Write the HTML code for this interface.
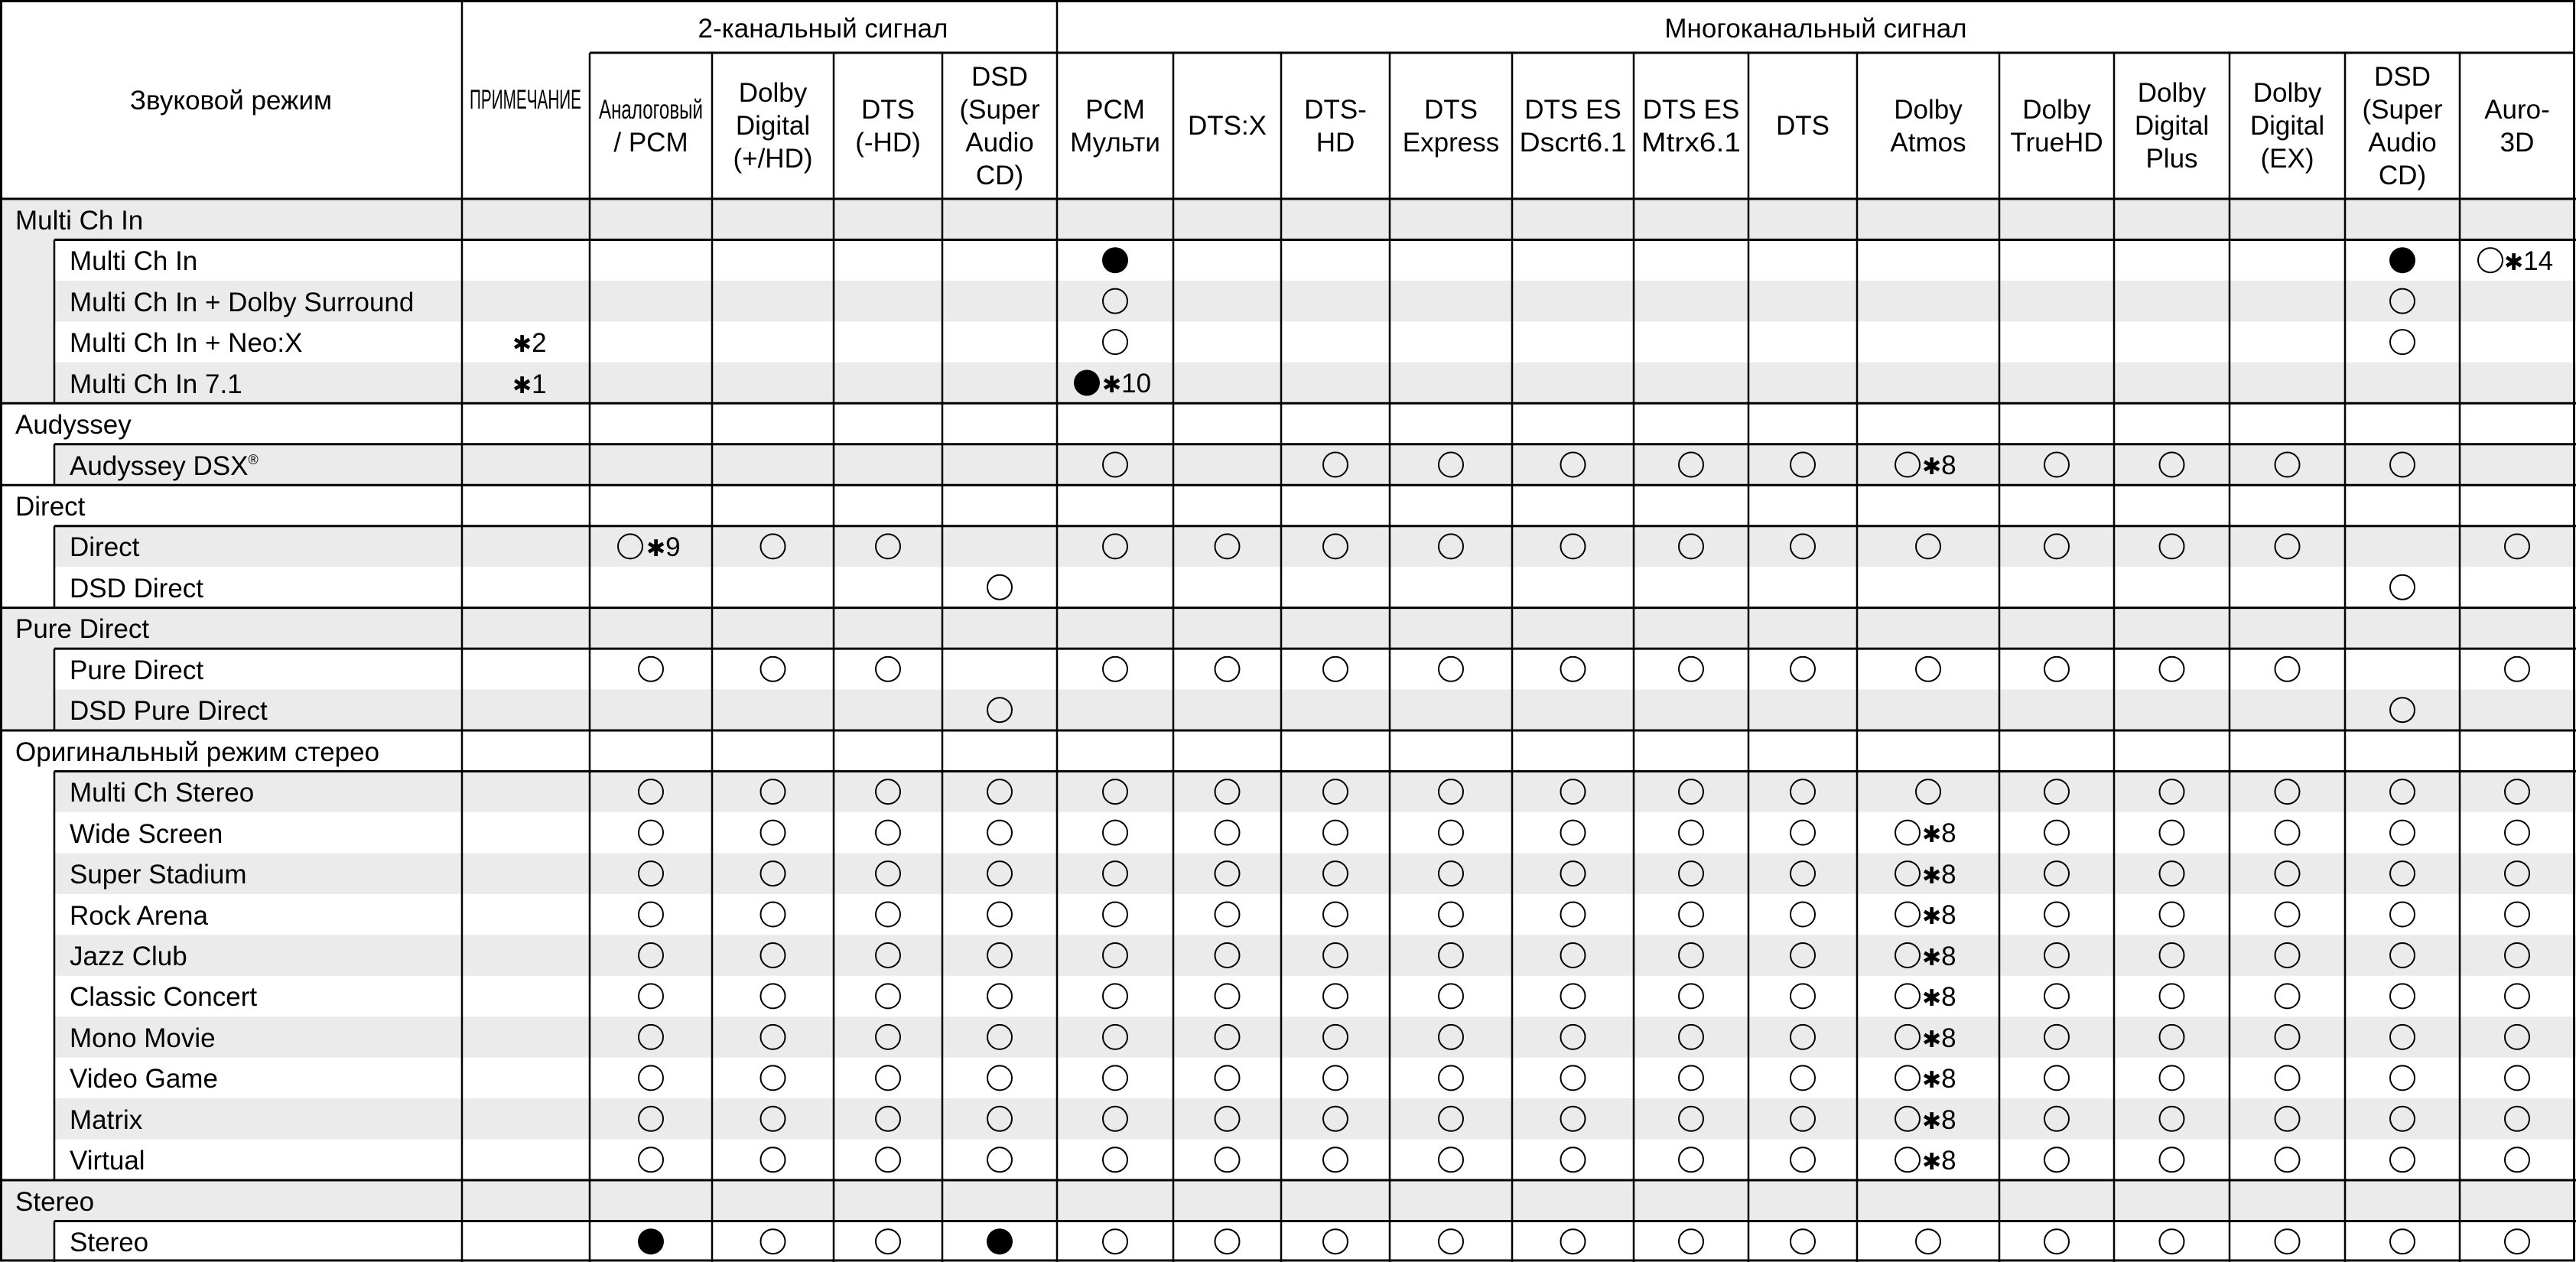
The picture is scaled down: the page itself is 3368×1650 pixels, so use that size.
<!DOCTYPE html>
<html><head><meta charset="utf-8"><style>
html,body{margin:0;padding:0;background:#fff;}
svg{display:block;}
text{font-family:"Liberation Sans","DejaVu Sans",sans-serif;font-size:35px;fill:#000;}
.h{text-anchor:middle;}
.a{font-family:"DejaVu Sans",sans-serif;font-weight:bold;font-size:30px;}
</style></head><body>
<svg width="3368" height="1650" viewBox="0 0 3368 1650" xmlns="http://www.w3.org/2000/svg">
<defs>
<g id="r17" fill="none" stroke="#000" stroke-width="2">
<circle cx="851" r="16"/><circle cx="1010.5" r="16"/><circle cx="1161" r="16"/><circle cx="1307" r="16"/><circle cx="1458" r="16"/><circle cx="1604.5" r="16"/><circle cx="1746" r="16"/><circle cx="1897" r="16"/><circle cx="2056.5" r="16"/><circle cx="2211" r="16"/><circle cx="2357" r="16"/><circle cx="2689" r="16"/><circle cx="2839.5" r="16"/><circle cx="2990.5" r="16"/><circle cx="3141" r="16"/><circle cx="3291" r="16"/>
</g>
</defs>
<!-- shading: even rows gray -->
<g fill="#ebebeb">
<rect x="0" y="260" width="3368" height="53.5"/>
<rect x="71" y="366.9" width="3297" height="53.5"/>
<rect x="71" y="473.8" width="3297" height="53.5"/>
<rect x="71" y="580.8" width="3297" height="53.5"/>
<rect x="71" y="687.7" width="3297" height="53.5"/>
<rect x="0" y="794.6" width="3368" height="53.5"/>
<rect x="71" y="901.5" width="3297" height="53.5"/>
<rect x="71" y="1008.4" width="3297" height="53.5"/>
<rect x="71" y="1115.4" width="3297" height="53.5"/>
<rect x="71" y="1222.3" width="3297" height="53.5"/>
<rect x="71" y="1329.2" width="3297" height="53.5"/>
<rect x="71" y="1436.1" width="3297" height="53.5"/>
<rect x="0" y="1543" width="3368" height="53.5"/>
<rect x="0" y="313" width="71" height="215"/>
<rect x="0" y="848" width="71" height="107"/>
<rect x="0" y="1596" width="71" height="54"/>
</g>
<!-- lines -->
<g stroke="#000" stroke-width="3" fill="none">
<rect x="1.5" y="1.5" width="3364" height="1646.5"/>
<line x1="771" y1="69" x2="3366" y2="69"/>
<line x1="0" y1="260" x2="3368" y2="260"/>
<line x1="0" y1="527.3" x2="3368" y2="527.3"/>
<line x1="0" y1="634.2" x2="3368" y2="634.2"/>
<line x1="0" y1="794.6" x2="3368" y2="794.6"/>
<line x1="0" y1="955" x2="3368" y2="955"/>
<line x1="0" y1="1543" x2="3368" y2="1543"/>
<line x1="71" y1="313.5" x2="3368" y2="313.5"/>
<line x1="71" y1="580.8" x2="3368" y2="580.8"/>
<line x1="71" y1="687.7" x2="3368" y2="687.7"/>
<line x1="71" y1="848.1" x2="3368" y2="848.1"/>
<line x1="71" y1="1008.4" x2="3368" y2="1008.4"/>
<line x1="71" y1="1596.5" x2="3368" y2="1596.5"/>
</g>
<g stroke="#000" stroke-width="2.5" fill="none">
<line x1="71" y1="313.5" x2="71" y2="527.3"/>
<line x1="71" y1="580.8" x2="71" y2="634.2"/>
<line x1="71" y1="687.7" x2="71" y2="794.6"/>
<line x1="71" y1="848.1" x2="71" y2="955"/>
<line x1="71" y1="1008.4" x2="71" y2="1543"/>
<line x1="71" y1="1596.5" x2="71" y2="1650"/>
<line x1="604" y1="0" x2="604" y2="1650"/>
<line x1="1382" y1="0" x2="1382" y2="1650"/>
<line x1="771" y1="69" x2="771" y2="1650"/>
<line x1="931" y1="69" x2="931" y2="1650"/>
<line x1="1090" y1="69" x2="1090" y2="1650"/>
<line x1="1232" y1="69" x2="1232" y2="1650"/>
<line x1="1534" y1="69" x2="1534" y2="1650"/>
<line x1="1675" y1="69" x2="1675" y2="1650"/>
<line x1="1817" y1="69" x2="1817" y2="1650"/>
<line x1="1977" y1="69" x2="1977" y2="1650"/>
<line x1="2136" y1="69" x2="2136" y2="1650"/>
<line x1="2286" y1="69" x2="2286" y2="1650"/>
<line x1="2428" y1="69" x2="2428" y2="1650"/>
<line x1="2614" y1="69" x2="2614" y2="1650"/>
<line x1="2764" y1="69" x2="2764" y2="1650"/>
<line x1="2915" y1="69" x2="2915" y2="1650"/>
<line x1="3066" y1="69" x2="3066" y2="1650"/>
<line x1="3216" y1="69" x2="3216" y2="1650"/>
</g>
<!-- header -->
<text class="h" x="302" y="143">Звуковой режим</text>
<text class="h" x="687" y="142" font-size="32" textLength="146" lengthAdjust="spacingAndGlyphs">ПРИМЕЧАНИЕ</text>
<text class="h" x="1076" y="49">2-канальный сигнал</text>
<text class="h" x="2374" y="49">Многоканальный сигнал</text>
<text class="h" x="851" y="155" font-size="33" textLength="136" lengthAdjust="spacingAndGlyphs">Аналоговый</text>
<text class="h" x="851" y="198">/ PCM</text>
<text class="h" x="1010.5"><tspan x="1010.5" y="133">Dolby</tspan><tspan x="1010.5" y="176">Digital</tspan><tspan x="1010.5" y="219">(+/HD)</tspan></text>
<text class="h" x="1161"><tspan x="1161" y="155">DTS</tspan><tspan x="1161" y="198">(-HD)</tspan></text>
<text class="h"><tspan x="1307" y="112">DSD</tspan><tspan x="1307" y="155">(Super</tspan><tspan x="1307" y="198">Audio</tspan><tspan x="1307" y="241">CD)</tspan></text>
<text class="h"><tspan x="1458" y="155">PCM</tspan><tspan x="1458" y="198">Мульти</tspan></text>
<text class="h" x="1604.5" y="176">DTS:X</text>
<text class="h"><tspan x="1746" y="155">DTS-</tspan><tspan x="1746" y="198">HD</tspan></text>
<text class="h"><tspan x="1897" y="155">DTS</tspan><tspan x="1897" y="198">Express</tspan></text>
<text class="h"><tspan x="2056.5" y="155">DTS ES</tspan><tspan x="2056.5" y="198" textLength="140" lengthAdjust="spacingAndGlyphs">Dscrt6.1</tspan></text>
<text class="h"><tspan x="2211" y="155">DTS ES</tspan><tspan x="2211" y="198" textLength="130" lengthAdjust="spacingAndGlyphs">Mtrx6.1</tspan></text>
<text class="h" x="2357" y="176">DTS</text>
<text class="h"><tspan x="2521" y="155">Dolby</tspan><tspan x="2521" y="198">Atmos</tspan></text>
<text class="h"><tspan x="2689" y="155">Dolby</tspan><tspan x="2689" y="198">TrueHD</tspan></text>
<text class="h"><tspan x="2839.5" y="133">Dolby</tspan><tspan x="2839.5" y="176">Digital</tspan><tspan x="2839.5" y="219">Plus</tspan></text>
<text class="h"><tspan x="2990.5" y="133">Dolby</tspan><tspan x="2990.5" y="176">Digital</tspan><tspan x="2990.5" y="219">(EX)</tspan></text>
<text class="h"><tspan x="3141" y="112">DSD</tspan><tspan x="3141" y="155">(Super</tspan><tspan x="3141" y="198">Audio</tspan><tspan x="3141" y="241">CD)</tspan></text>
<text class="h"><tspan x="3291" y="155">Auro-</tspan><tspan x="3291" y="198">3D</tspan></text>
<!-- row labels -->
<text x="20" y="300">Multi Ch In</text>
<text x="91" y="353">Multi Ch In</text>
<text x="91" y="407">Multi Ch In + Dolby Surround</text>
<text x="91" y="460">Multi Ch In + Neo:X</text>
<text x="91" y="514">Multi Ch In 7.1</text>
<text x="20" y="567">Audyssey</text>
<text x="91" y="621">Audyssey DSX<tspan font-size="18" dy="-14">®</tspan></text>
<text x="20" y="674">Direct</text>
<text x="91" y="727">Direct</text>
<text x="91" y="781">DSD Direct</text>
<text x="20" y="834">Pure Direct</text>
<text x="91" y="888">Pure Direct</text>
<text x="91" y="941">DSD Pure Direct</text>
<text x="20" y="995">Оригинальный режим стерео</text>
<text x="91" y="1048">Multi Ch Stereo</text>
<text x="91" y="1102">Wide Screen</text>
<text x="91" y="1155">Super Stadium</text>
<text x="91" y="1209">Rock Arena</text>
<text x="91" y="1262">Jazz Club</text>
<text x="91" y="1315">Classic Concert</text>
<text x="91" y="1369">Mono Movie</text>
<text x="91" y="1422">Video Game</text>
<text x="91" y="1476">Matrix</text>
<text x="91" y="1529">Virtual</text>
<text x="20" y="1583">Stereo</text>
<text x="91" y="1636">Stereo</text>
<!-- notes -->
<text x="670" y="460"><tspan class="a">✱</tspan>2</text>
<text x="670" y="514"><tspan class="a">✱</tspan>1</text>
<!-- marks -->
<g fill="none" stroke="#000" stroke-width="2">
<circle cx="1458" cy="393.6" r="16"/><circle cx="3141" cy="393.6" r="16"/>
<circle cx="1458" cy="447.1" r="16"/><circle cx="3141" cy="447.1" r="16"/>
<circle cx="3256" cy="340.2" r="16"/>
<!-- DSX -->
<circle cx="1458" cy="607.5" r="16"/><circle cx="1746" cy="607.5" r="16"/><circle cx="1897" cy="607.5" r="16"/><circle cx="2056.5" cy="607.5" r="16"/><circle cx="2211" cy="607.5" r="16"/><circle cx="2357" cy="607.5" r="16"/><circle cx="2494" cy="607.5" r="16"/><circle cx="2689" cy="607.5" r="16"/><circle cx="2839.5" cy="607.5" r="16"/><circle cx="2990.5" cy="607.5" r="16"/><circle cx="3141" cy="607.5" r="16"/>
<!-- Direct -->
<circle cx="824" cy="714.4" r="16"/><circle cx="1010.5" cy="714.4" r="16"/><circle cx="1161" cy="714.4" r="16"/><circle cx="1458" cy="714.4" r="16"/><circle cx="1604.5" cy="714.4" r="16"/><circle cx="1746" cy="714.4" r="16"/><circle cx="1897" cy="714.4" r="16"/><circle cx="2056.5" cy="714.4" r="16"/><circle cx="2211" cy="714.4" r="16"/><circle cx="2357" cy="714.4" r="16"/><circle cx="2521" cy="714.4" r="16"/><circle cx="2689" cy="714.4" r="16"/><circle cx="2839.5" cy="714.4" r="16"/><circle cx="2990.5" cy="714.4" r="16"/><circle cx="3291" cy="714.4" r="16"/>
<circle cx="1307" cy="767.8" r="16"/><circle cx="3141" cy="767.8" r="16"/>
<!-- Pure Direct -->
<circle cx="851" cy="874.8" r="16"/><circle cx="1010.5" cy="874.8" r="16"/><circle cx="1161" cy="874.8" r="16"/><circle cx="1458" cy="874.8" r="16"/><circle cx="1604.5" cy="874.8" r="16"/><circle cx="1746" cy="874.8" r="16"/><circle cx="1897" cy="874.8" r="16"/><circle cx="2056.5" cy="874.8" r="16"/><circle cx="2211" cy="874.8" r="16"/><circle cx="2357" cy="874.8" r="16"/><circle cx="2521" cy="874.8" r="16"/><circle cx="2689" cy="874.8" r="16"/><circle cx="2839.5" cy="874.8" r="16"/><circle cx="2990.5" cy="874.8" r="16"/><circle cx="3291" cy="874.8" r="16"/>
<circle cx="1307" cy="928.2" r="16"/><circle cx="3141" cy="928.2" r="16"/>
<!-- Atmos for Multi Ch Stereo -->
<circle cx="2521" cy="1035.1" r="16"/>
<!-- Atmos ○*8 rows -->
<circle cx="2494" cy="1088.6" r="16"/><circle cx="2494" cy="1142.1" r="16"/><circle cx="2494" cy="1195.5" r="16"/><circle cx="2494" cy="1249" r="16"/><circle cx="2494" cy="1302.4" r="16"/><circle cx="2494" cy="1355.9" r="16"/><circle cx="2494" cy="1409.4" r="16"/><circle cx="2494" cy="1462.8" r="16"/><circle cx="2494" cy="1516.3" r="16"/>
<!-- Stereo -->
<circle cx="1010.5" cy="1623.2" r="16"/><circle cx="1161" cy="1623.2" r="16"/><circle cx="1458" cy="1623.2" r="16"/><circle cx="1604.5" cy="1623.2" r="16"/><circle cx="1746" cy="1623.2" r="16"/><circle cx="1897" cy="1623.2" r="16"/><circle cx="2056.5" cy="1623.2" r="16"/><circle cx="2211" cy="1623.2" r="16"/><circle cx="2357" cy="1623.2" r="16"/><circle cx="2521" cy="1623.2" r="16"/><circle cx="2689" cy="1623.2" r="16"/><circle cx="2839.5" cy="1623.2" r="16"/><circle cx="2990.5" cy="1623.2" r="16"/><circle cx="3141" cy="1623.2" r="16"/><circle cx="3291" cy="1623.2" r="16"/>
</g>
<g fill="#000">
<circle cx="1458" cy="340.2" r="17"/><circle cx="3141" cy="340.2" r="17"/>
<circle cx="1421" cy="500.5" r="17"/>
<circle cx="851" cy="1623.2" r="17"/><circle cx="1307" cy="1623.2" r="17"/>
</g>
<use href="#r17" y="1035.1"/><use href="#r17" y="1088.6"/><use href="#r17" y="1142.1"/><use href="#r17" y="1195.5"/><use href="#r17" y="1249"/><use href="#r17" y="1302.4"/><use href="#r17" y="1355.9"/><use href="#r17" y="1409.4"/><use href="#r17" y="1462.8"/><use href="#r17" y="1516.3"/>
<!-- annotations -->
<text x="3274" y="353"><tspan class="a">✱</tspan>14</text>
<text x="1441" y="513"><tspan class="a">✱</tspan>10</text>
<text x="845" y="727"><tspan class="a">✱</tspan>9</text>
<text x="2513" y="620"><tspan class="a">✱</tspan>8</text>
<text x="2513" y="1101"><tspan class="a">✱</tspan>8</text>
<text x="2513" y="1155"><tspan class="a">✱</tspan>8</text>
<text x="2513" y="1208"><tspan class="a">✱</tspan>8</text>
<text x="2513" y="1262"><tspan class="a">✱</tspan>8</text>
<text x="2513" y="1315"><tspan class="a">✱</tspan>8</text>
<text x="2513" y="1369"><tspan class="a">✱</tspan>8</text>
<text x="2513" y="1422"><tspan class="a">✱</tspan>8</text>
<text x="2513" y="1476"><tspan class="a">✱</tspan>8</text>
<text x="2513" y="1529"><tspan class="a">✱</tspan>8</text>
</svg>
</body></html>
